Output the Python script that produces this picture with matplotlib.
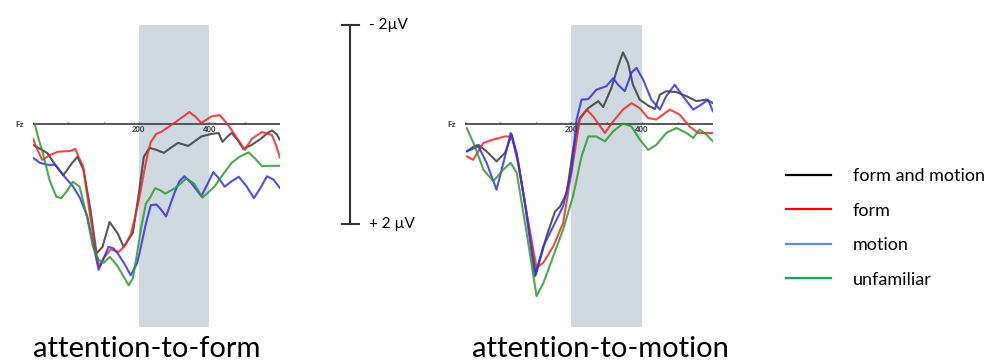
import numpy as np
import matplotlib.pyplot as plt
from matplotlib.lines import Line2D
from matplotlib.transforms import blended_transform_factory

plt.rcParams['font.family'] = ['Lato', 'DejaVu Sans']

# Fz grand averages (ms, µV; negative is plotted upward)
# attention-to-form
lf_t_fm = [-100, -80, -60, -37, -14, 11, 26, 43, 63, 80, 97, 117, 140, 157, 183, 200, 214, 230, 250, 271, 290,
           311, 340, 377, 406, 426, 437, 450, 463, 480, 496, 520, 545, 565, 577, 590, 600]
lf_fm = [0.42, 0.5, 0.58, 0.82, 1.03, 0.78, 0.66, 0.92, 1.73, 2.6, 2.47, 1.97, 2.2, 2.47, 2.19, 1.39, 0.66, 0.48,
         0.52, 0.58, 0.48, 0.38, 0.44, 0.25, 0.2, 0.18, 0.36, 0.26, 0.18, 0.32, 0.5, 0.42, 0.3, 0.18, 0.13, 0.2, 0.32]

lf_t_form = [-100, -91, -74, -50, -31, 6, 20, 29, 42, 61, 80, 88, 100, 120, 143, 160, 177, 195, 206, 214, 225, 234,
             249, 263, 300, 320, 343, 360, 377, 405, 429, 445, 457, 480, 500, 520, 549, 577, 590, 600]
lf_form = [0.29, 0.46, 0.72, 0.62, 0.56, 0.54, 0.5, 0.66, 0.85, 1.8, 2.65, 2.86, 2.7, 2.52, 2.57, 2.45, 2.22, 1.7,
           1.3, 0.99, 0.6, 0.36, 0.2, 0.16, -0.02, -0.12, -0.24, -0.15, -0.02, -0.15, -0.18, -0.05, 0.06, 0.3,
           0.52, 0.3, 0.16, 0.22, 0.45, 0.68]

lf_t_motion = [-100, -80, -60, -37, -14, 14, 34, 54, 70, 86, 100, 114, 128, 140, 160, 177, 195, 206, 220, 234, 250,
               263, 277, 300, 315, 329, 349, 377, 395, 411, 428, 443, 463, 483, 505, 526, 545, 563, 582, 600]
lf_motion = [0.68, 0.78, 0.82, 0.82, 1.03, 1.26, 1.5, 1.86, 2.4, 2.93, 2.7, 2.47, 2.5, 2.6, 2.82, 3.04, 2.8, 2.46,
             2.0, 1.63, 1.62, 1.72, 1.86, 1.4, 1.15, 1.05, 1.19, 1.45, 1.2, 0.97, 1.1, 1.26, 1.15, 1.06, 1.25, 1.49,
             1.28, 1.05, 1.12, 1.29]

lf_t_unfam = [-95, -84, -72, -53, -34, -20, -5, 13, 32, 51, 70, 86, 100, 118, 141, 158, 171, 183, 195, 206, 220,
              234, 246, 260, 275, 300, 318, 334, 357, 380, 396, 414, 440, 463, 485, 511, 530, 549, 575, 600]
lf_unfam = [0.0, 0.3, 0.59, 1.13, 1.46, 1.49, 1.36, 1.16, 1.26, 1.8, 2.47, 2.73, 2.79, 2.67, 2.87, 3.08, 3.24, 3.1,
            2.6, 2.1, 1.6, 1.45, 1.29, 1.33, 1.4, 1.3, 1.2, 1.09, 1.2, 1.48, 1.38, 1.26, 1.0, 0.78, 0.66, 0.57, 0.7,
            0.85, 0.84, 0.84]

# attention-to-motion
lm_t_fm = [-95, -75, -62, -39, -11, 13, 32, 50, 74, 100, 130, 154, 168, 187, 205, 224, 248, 276, 290, 313, 332,
           346, 360, 374, 393, 417, 436, 450, 468, 497, 525, 553, 581, 600]
lm_fm = [0.55, 0.45, 0.42, 0.55, 0.75, 0.58, 0.21, 0.78, 1.79, 3.03, 2.26, 1.76, 1.66, 1.39, 0.52, -0.12, -0.32,
         -0.46, -0.34, -0.72, -1.16, -1.44, -1.23, -0.79, -0.49, -0.37, -0.3, -0.59, -0.66, -0.64, -0.56, -0.46,
         -0.49, -0.42]

lm_t_form = [-95, -77, -48, -20, 13, 32, 50, 74, 102, 121, 149, 177, 205, 224, 243, 262, 295, 318, 346, 370, 393,
             417, 440, 478, 506, 534, 558, 600]
lm_form = [0.65, 0.72, 0.38, 0.31, 0.25, 0.25, 0.78, 1.79, 2.89, 2.79, 2.46, 1.99, 0.78, -0.09, -0.29, -0.15, 0.18,
           -0.05, -0.29, -0.42, -0.32, -0.12, -0.09, -0.29, -0.19, 0.05, 0.18, 0.18]

lm_t_motion = [-95, -62, -39, -11, 13, 29, 46, 69, 97, 121, 149, 177, 201, 215, 229, 248, 271, 299, 318, 332, 351,
               370, 384, 403, 426, 450, 468, 492, 515, 544, 567, 586, 600]
lm_motion = [0.55, 0.45, 0.78, 1.32, 0.65, 0.18, 0.58, 1.59, 3.06, 2.46, 2.06, 1.65, 0.92, -0.09, -0.49, -0.5,
             -0.69, -0.76, -0.92, -0.79, -0.66, -1.03, -1.13, -0.89, -0.49, -0.29, -0.56, -0.79, -0.56, -0.29,
             -0.39, -0.49, -0.25]

lm_t_unfam = [-95, -72, -48, -20, 8, 29, 46, 74, 102, 121, 149, 177, 205, 229, 248, 271, 295, 318, 346, 370, 393,
              417, 440, 468, 497, 525, 544, 562, 581, 600]
lm_unfam = [0.08, 0.45, 0.92, 1.15, 0.92, 0.78, 0.98, 2.19, 3.46, 3.2, 2.66, 2.12, 1.45, 0.65, 0.25, 0.25, 0.35,
            0.15, -0.01, 0.05, 0.31, 0.52, 0.42, 0.18, 0.08, 0.18, 0.28, 0.11, 0.21, 0.35]

panel_titles = ['attention-to-form', 'attention-to-motion']
legend_labels = ['form and motion', 'form', 'motion', 'unfamiliar']
tick_labels = {200: '200', 400: '400'}
window = (200, 400)

curve_colors = ['#3a3a3a', '#f02828', '#2f2ff2', '#2e9a2e']
legend_colors = ['#000000', '#ff0000', '#5b8fd8', '#00b050']

W, H = 1003, 363
fig = plt.figure(figsize=(W / 100, H / 100), dpi=100)


def erp_panel(left_px, width_px, series, title, title_x):
    ax = fig.add_axes([left_px / W, (H - 327) / H, width_px / W, (327 - 25) / H])
    ax.set_xlim(-100, 600)
    ax.set_ylim(4.08, -1.99)
    ax.axis('off')
    ax.axvspan(*window, color='#cfd9e0', lw=0, zorder=0)
    ax.axhline(0, color='#4a4a4a', lw=1.3, zorder=1)
    ticks = np.arange(-100, 601, 100)
    ax.vlines(ticks, 0, -0.05, color='#4a4a4a', lw=1.0, zorder=1)
    for t, lab in tick_labels.items():
        ax.text(t, 0.03, lab, ha='center', va='top', fontsize=5.5, fontweight='bold', color='#333333', zorder=3)
    ax.annotate('Fz', xy=(-100, 0), xytext=(-9, 0), textcoords='offset pixels', ha='right', va='center',
                fontsize=6, fontweight='bold', color='#333333')
    for (t, v), c in zip(series, curve_colors):
        ax.plot(t, v, color=c, lw=1.5, alpha=0.85, solid_joinstyle='round', solid_capstyle='round', zorder=2)
    fig.text(title_x / W, 1 - 349 / H, title, ha='center', va='center', fontsize=21)
    return ax


axL = erp_panel(33, 247, [(lf_t_fm, lf_fm), (lf_t_form, lf_form), (lf_t_motion, lf_motion), (lf_t_unfam, lf_unfam)],
                panel_titles[0], 147)
axR = erp_panel(465, 248, [(lm_t_fm, lm_fm), (lm_t_form, lm_form), (lm_t_motion, lm_motion), (lm_t_unfam, lm_unfam)],
                panel_titles[1], 600)

# calibration bar, same µV scale as the panels
tr = blended_transform_factory(fig.transFigure, axL.transData)
axL.plot([350 / W, 350 / W], [-2, 2], color='#333333', lw=1.5, transform=tr, clip_on=False)
for v in (-2, 2):
    axL.plot([342 / W, 359 / W], [v, v], color='#333333', lw=1.5, transform=tr, clip_on=False)
axL.text(369 / W, -2, '- 2µV', transform=tr, ha='left', va='center', fontsize=11)
axL.text(369 / W, 2, '+ 2 µV', transform=tr, ha='left', va='center', fontsize=11)

handles = [Line2D([], [], color=c, lw=1.6) for c in legend_colors]
fig.legend(handles, legend_labels, loc='upper left', bbox_to_anchor=(786 / W, 1 - 168 / H), frameon=False,
           fontsize=13, handlelength=2.5, handletextpad=1.2, labelspacing=1.03, borderpad=0, borderaxespad=0)

fig.savefig('out.png', dpi=100)
